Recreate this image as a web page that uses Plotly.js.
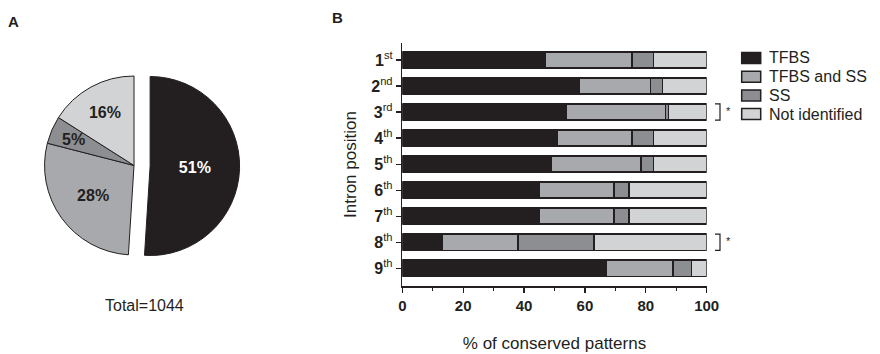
<!DOCTYPE html>
<html>
<head>
<meta charset="utf-8">
<script src="https://cdn.plot.ly/plotly-3.0.1.min.js"></script>
<style>html,body{margin:0;padding:0;background:#fff;}#chart{width:880px;height:354px;}</style>
</head>
<body>
<div id="chart"></div>
<script>
// ---- data ----
var seriesNames = ['TFBS', 'TFBS and SS', 'SS', 'Not identified'];
var seriesColors = ['#231f20', '#a7a9ac', '#8c8e91', '#d1d3d4'];
var pieValues = [51, 28, 5, 16];
var pieTotalLabel = 'Total=1044';
var positions = ['1st', '2nd', '3rd', '4th', '5th', '6th', '7th', '8th', '9th'];
var positionLabels = ['<b>1</b><sup>st</sup>', '<b>2</b><sup>nd</sup>', '<b>3</b><sup>rd</sup>', '<b>4</b><sup>th</sup>',
  '<b>5</b><sup>th</sup>', '<b>6</b><sup>th</sup>', '<b>7</b><sup>th</sup>', '<b>8</b><sup>th</sup>', '<b>9</b><sup>th</sup>'];
var tfbs        = [47, 58, 54, 51, 49, 45, 45, 13, 67];
var tfbsAndSS   = [28.5, 23.5, 32.5, 24.5, 29.5, 24.5, 24.5, 25, 22];
var ssOnly      = [7, 4, 1, 7, 4, 5, 5, 25, 6];
var notIdent    = [17.5, 14.5, 12.5, 17.5, 17.5, 25.5, 25.5, 37, 5];
var significant = ['3rd', '8th'];

var FONT = 'Liberation Sans, Arial, Helvetica, sans-serif';
var INK = '#231f20';
var W = 880, H = 354;

// y-axis (categorical, reversed) range used for layout helpers
var yRange = [8.68, -0.65];
var yDomain = [1 - 286 / H, 1 - 43 / H];
function yPaper(idx) {
  var f = (idx - yRange[0]) / (yRange[1] - yRange[0]);
  return yDomain[0] + f * (yDomain[1] - yDomain[0]);
}
var barWidth = 0.62;

var barSeries = [tfbs, tfbsAndSS, ssOnly, notIdent];
var traces = [];
barSeries.forEach(function (vals, i) {
  traces.push({
    type: 'bar', orientation: 'h', name: seriesNames[i],
    x: vals, y: positions, width: barWidth,
    marker: { color: seriesColors[i], line: { color: INK, width: 1.6 } },
    xaxis: 'x', yaxis: 'y', hoverinfo: 'x+name', showlegend: false
  });
});

// pie geometry
var pieDomX = [0.0323, 0.2723], pieDomY = [0.2342, 0.8308];
var piePull = 0.18;
var pieSum = pieValues.reduce(function (a, b) { return a + b; }, 0);
// small slices get their label placed as an annotation so it keeps full size
var smallIdx = pieValues.map(function (v, i) { return v / pieSum < 0.08 ? i : -1; }).filter(function (i) { return i >= 0; });
var pieTextPos = pieValues.map(function (v, i) { return smallIdx.indexOf(i) >= 0 ? 'none' : 'inside'; });

traces.push({
  type: 'pie', labels: seriesNames, values: pieValues, sort: false,
  direction: 'clockwise', rotation: 0,
  pull: [piePull, 0, 0, 0],
  marker: { colors: seriesColors, line: { color: INK, width: 1 } },
  textinfo: 'percent', textposition: pieTextPos, insidetextorientation: 'horizontal',
  insidetextfont: { family: FONT, size: 16, weight: 'bold', color: ['#ffffff', INK, INK, INK] },
  domain: { x: pieDomX, y: pieDomY },
  showlegend: false, hoverinfo: 'label+percent'
});

var shapes = [];
var annotations = [];

// labels of small pie slices
var pcx = (pieDomX[0] + pieDomX[1]) / 2 * W, pcy = (1 - (pieDomY[0] + pieDomY[1]) / 2) * H;
var pR = Math.min((pieDomX[1] - pieDomX[0]) * W, (pieDomY[1] - pieDomY[0]) * H) / (2 + 2 * piePull);
smallIdx.forEach(function (i) {
  var before = 0;
  for (var k = 0; k < i; k++) before += pieValues[k];
  var mid = (before + pieValues[i] / 2) / pieSum * 2 * Math.PI;
  var px = pcx + Math.sin(mid) * pR * 0.74;
  var py = pcy - Math.cos(mid) * pR * 0.74;
  annotations.push({ xref: 'paper', yref: 'paper', x: px / W, y: 1 - py / H,
    xanchor: 'center', yanchor: 'middle', showarrow: false,
    text: Math.round(pieValues[i] / pieSum * 100) + '%',
    font: { family: FONT, size: 16, weight: 'bold', color: INK } });
});

// manual legend
var legX0 = 741.7, legX1 = 760.7, legTextX = 767, legY0 = 58, legStep = 18.7;
seriesNames.forEach(function (nm, i) {
  var yc = legY0 + i * legStep;
  shapes.push({ type: 'rect', xref: 'paper', yref: 'paper',
    x0: legX0 / W, x1: legX1 / W, y0: 1 - (yc + 5.5) / H, y1: 1 - (yc - 5.5) / H,
    fillcolor: seriesColors[i], line: { color: INK, width: 1.5 } });
  annotations.push({ xref: 'paper', yref: 'paper', x: legTextX / W, y: 1 - yc / H,
    xanchor: 'left', yanchor: 'middle', showarrow: false, text: nm,
    font: { family: FONT, size: 16, color: INK } });
});

// significance brackets
significant.forEach(function (p) {
  var idx = positions.indexOf(p);
  var yT = yPaper(idx - barWidth / 2), yB = yPaper(idx + barWidth / 2);
  var xa = 715 / W, xb = 720 / W;
  shapes.push({ type: 'path', xref: 'paper', yref: 'paper',
    path: 'M ' + xa + ' ' + yT + ' L ' + xb + ' ' + yT + ' L ' + xb + ' ' + yB + ' L ' + xa + ' ' + yB,
    line: { color: INK, width: 1.2 } });
  annotations.push({ xref: 'paper', yref: 'paper', x: 724 / W, y: yPaper(idx - 0.05),
    xanchor: 'left', yanchor: 'middle', showarrow: false, text: '*',
    font: { family: FONT, size: 11, color: INK } });
});

annotations.push({ xref: 'paper', yref: 'paper', x: 14 / W, y: 1 - 22 / H, xanchor: 'center', yanchor: 'middle',
  showarrow: false, text: '<b>A</b>', font: { family: FONT, size: 15, color: INK } });
annotations.push({ xref: 'paper', yref: 'paper', x: 337 / W, y: 1 - 18 / H, xanchor: 'center', yanchor: 'middle',
  showarrow: false, text: '<b>B</b>', font: { family: FONT, size: 15, color: INK } });
annotations.push({ xref: 'paper', yref: 'paper', x: 144 / W, y: 1 - 305 / H, xanchor: 'center', yanchor: 'middle',
  showarrow: false, text: pieTotalLabel, font: { family: FONT, size: 16, color: INK } });

var layout = {
  width: W, height: H,
  margin: { l: 0, r: 0, t: 0, b: 0 },
  paper_bgcolor: '#ffffff', plot_bgcolor: '#ffffff',
  barmode: 'stack', bargap: 0,
  font: { family: FONT, color: INK },
  showlegend: false,
  xaxis: {
    domain: [402.3 / W, 706.7 / W], range: [0, 100],
    showgrid: false, zeroline: false,
    showline: true, linecolor: INK, linewidth: 1.5,
    ticks: 'outside', ticklen: 5, tickwidth: 1.2, tickcolor: INK,
    tickmode: 'array', tickvals: [0, 20, 40, 60, 80, 100],
    minor: { tickvals: [10, 30, 50, 70, 90], ticks: 'outside', ticklen: 3, tickwidth: 1, tickcolor: INK },
    tickfont: { family: FONT, size: 15, weight: 'bold', color: INK },
    title: { text: '% of conserved patterns', font: { family: FONT, size: 17, color: INK }, standoff: 24 },
    fixedrange: true
  },
  yaxis: {
    domain: yDomain, type: 'category',
    categoryorder: 'array', categoryarray: positions,
    range: yRange,
    tickmode: 'array', tickvals: positions, ticktext: positionLabels,
    showgrid: false, zeroline: false,
    showline: true, linecolor: INK, linewidth: 1.5,
    ticks: 'outside', ticklen: 5, tickwidth: 1.2, tickcolor: INK,
    tickfont: { family: FONT, size: 16, color: INK },
    title: { text: 'Intron position', font: { family: FONT, size: 17, color: INK }, standoff: 10 },
    fixedrange: true
  },
  shapes: shapes,
  annotations: annotations
};

Plotly.newPlot('chart', traces, layout, { displayModeBar: false, staticPlot: true });
</script>
</body>
</html>
